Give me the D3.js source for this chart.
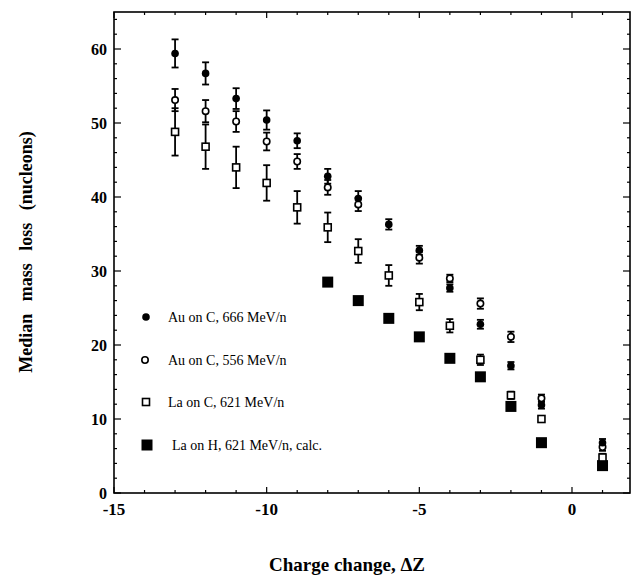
<!DOCTYPE html>
<html><head><meta charset="utf-8">
<script src="https://cdn.jsdelivr.net/npm/d3@7"></script>
<style>body{margin:0;background:#fff}svg{display:block}</style>
</head><body><svg id="c" width="634" height="575"></svg>
<script>
// ---- data ----
const xAu666 = [-13,-12,-11,-10,-9,-8,-7,-6,-5,-4,-3,-2,-1,1];
const yAu666 = [59.4,56.7,53.3,50.4,47.6,42.8,39.8,36.3,32.8,27.7,22.8,17.2,11.9,6.8];
const eAu666 = [1.9,1.5,1.4,1.3,1.0,1.0,1.0,0.7,0.6,0.5,0.6,0.5,0.5,0.5];
const xAu556 = [-13,-12,-11,-10,-9,-8,-7,-5,-4,-3,-2,-1,1];
const yAu556 = [53.1,51.6,50.2,47.5,44.8,41.3,39.0,31.8,29.0,25.6,21.1,12.8,6.2];
const eAu556 = [1.5,1.5,1.4,1.2,1.0,1.0,0.9,0.8,0.5,0.7,0.7,0.5,0.5];
const xLaC = [-13,-12,-11,-10,-9,-8,-7,-6,-5,-4,-3,-2,-1,1];
const yLaC = [48.8,46.8,44.0,41.9,38.6,35.9,32.7,29.4,25.8,22.6,18.0,13.2,10.0,4.8];
const eLaC = [3.2,3.0,2.8,2.4,2.2,2.0,1.6,1.4,1.1,0.9,0.7,0.5,0.3,0.5];
const xLaH = [-8,-7,-6,-5,-4,-3,-2,-1,1];
const yLaH = [28.5,26.0,23.6,21.1,18.2,15.7,11.7,6.8,3.7];
const legendLabels = ["Au on C, 666 MeV/n","Au on C, 556 MeV/n","La on C, 621 MeV/n","La on H, 621 MeV/n, calc."];
const xMajorTicks = [-15,-10,-5,0];
const yMajorTicks = [0,10,20,30,40,50,60];
const xTitle = "Charge change, \u0394Z";
const yTitle = "Median mass loss (nucleons)";

// ---- layout ----
const L=114, R=630, T=12, B=493;
const svg = d3.select("#c");
const x = d3.scaleLinear().domain([-15,1.9]).range([L,R]);
const y = d3.scaleLinear().domain([0,65]).range([B,T]);
const serif = "'Liberation Serif','Times New Roman',serif";

// ticks (inward, on all four sides)
const g = svg.append("g").attr("stroke","#000").attr("stroke-width",1.2);
d3.range(-15,2,1).forEach(v=>{
  const major = xMajorTicks.includes(v);
  const len = major?6:3;
  g.append("line").attr("x1",x(v)).attr("x2",x(v)).attr("y1",B).attr("y2",B-len);
  g.append("line").attr("x1",x(v)).attr("x2",x(v)).attr("y1",T).attr("y2",T+len);
});
d3.range(0,66,2).forEach(v=>{
  const major = v%10===0;
  const len = major?7:3;
  g.append("line").attr("y1",y(v)).attr("y2",y(v)).attr("x1",L).attr("x2",L+len);
  g.append("line").attr("y1",y(v)).attr("y2",y(v)).attr("x1",R).attr("x2",R-len);
});
svg.append("rect").attr("x",L).attr("y",T).attr("width",R-L).attr("height",B-T)
  .attr("fill","none").attr("stroke","#000").attr("stroke-width",1.6);

// tick labels
svg.selectAll(".xl").data(xMajorTicks).enter().append("text")
  .attr("x",d=>x(d)).attr("y",515).attr("text-anchor","middle")
  .attr("font-family",serif).attr("font-weight","bold").attr("font-size",17)
  .text(d=>d===0?"0":"-"+Math.abs(d));
svg.selectAll(".yl").data(yMajorTicks).enter().append("text")
  .attr("x",107).attr("y",d=>y(d)+5.5).attr("text-anchor","end")
  .attr("font-family",serif).attr("font-weight","bold").attr("font-size",16)
  .text(d=>d);

// titles
svg.append("text").attr("x",347).attr("y",571).attr("text-anchor","middle")
  .attr("font-family",serif).attr("font-weight","bold").attr("font-size",19).text(xTitle);
svg.append("text").attr("transform","translate(32,252) rotate(-90)").attr("text-anchor","middle")
  .attr("font-family",serif).attr("font-weight","bold").attr("font-size",18)
  .attr("word-spacing",8).text(yTitle);

// error bars
function errbars(xs,ys,es){
  const eg = svg.append("g").attr("stroke","#000").attr("stroke-width",1.8);
  xs.forEach((xv,i)=>{
    const cx=x(xv), y1=y(ys[i]+es[i]), y2=y(ys[i]-es[i]);
    eg.append("line").attr("x1",cx).attr("x2",cx).attr("y1",y1).attr("y2",y2);
    eg.append("line").attr("x1",cx-3.5).attr("x2",cx+3.5).attr("y1",y1).attr("y2",y1);
    eg.append("line").attr("x1",cx-3.5).attr("x2",cx+3.5).attr("y1",y2).attr("y2",y2);
  });
}
errbars(xLaC,yLaC,eLaC);
errbars(xAu556,yAu556,eAu556);
errbars(xAu666,yAu666,eAu666);

// markers
function sqOpen(sel,cx,cy){sel.append("rect").attr("x",cx-3.5).attr("y",cy-3.5).attr("width",7).attr("height",7).attr("fill","#fff").attr("stroke","#000").attr("stroke-width",1.6);}
function sqFill(sel,cx,cy){sel.append("rect").attr("x",cx-5.5).attr("y",cy-5.5).attr("width",11).attr("height",11).attr("fill","#000");}
function cOpen(sel,cx,cy){sel.append("circle").attr("cx",cx).attr("cy",cy).attr("r",3.2).attr("fill","#fff").attr("stroke","#000").attr("stroke-width",1.6);}
function cFill(sel,cx,cy){sel.append("circle").attr("cx",cx).attr("cy",cy).attr("r",3.8).attr("fill","#000");}
const mg = svg.append("g");
xLaH.forEach((v,i)=>sqFill(mg,x(v),y(yLaH[i])));
xLaC.forEach((v,i)=>sqOpen(mg,x(v),y(yLaC[i])));
xAu556.forEach((v,i)=>cOpen(mg,x(v),y(yAu556[i])));
xAu666.forEach((v,i)=>cFill(mg,x(v),y(yAu666[i])));

// legend
const lg = svg.append("g");
const ly = [317,360,402,445];
cFill(lg,146,ly[0]); cOpen(lg,145,ly[1]); sqOpen(lg,146,ly[2]); sqFill(lg,147,ly[3]);
legendLabels.forEach((t,i)=>{
  lg.append("text").attr("x",i===3?172:168).attr("y",ly[i]+5)
    .attr("font-family",serif).attr("font-size",14).text(t);
});
</script></body></html>
